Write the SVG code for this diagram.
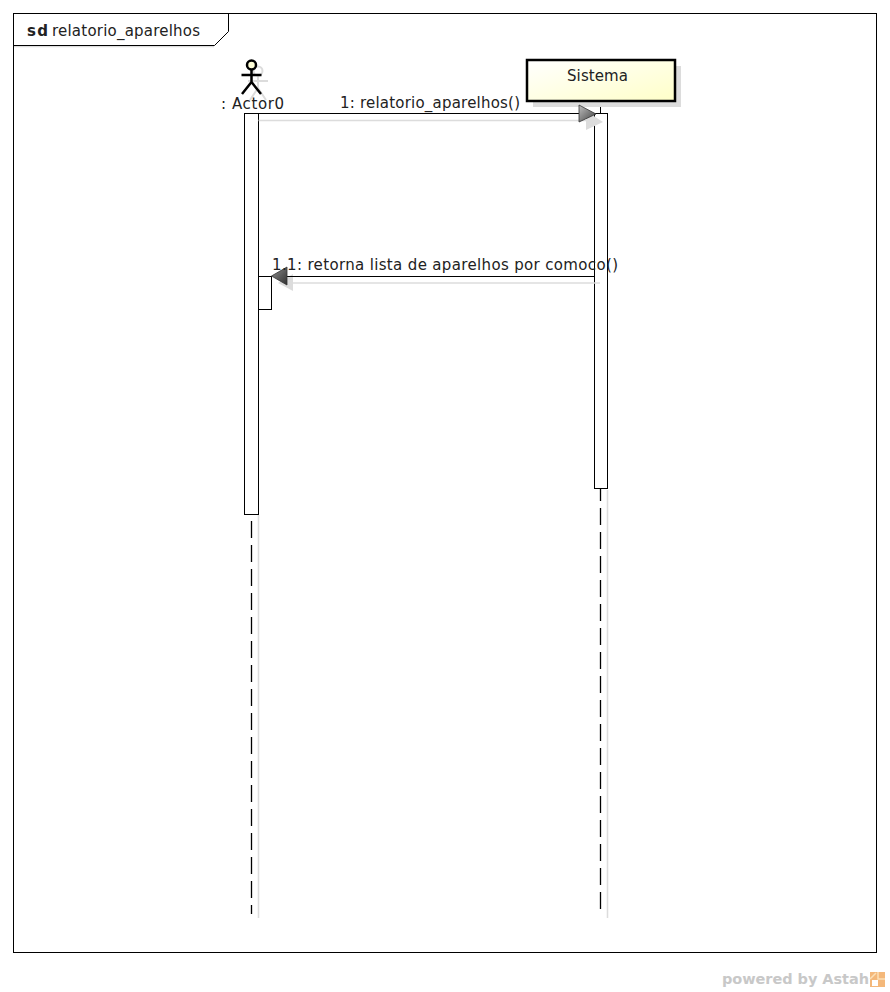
<svg xmlns="http://www.w3.org/2000/svg" width="890" height="992" viewBox="0 0 890 992">
<defs>
<linearGradient id="fill" x1="0" y1="0" x2="1" y2="1"><stop offset="0" stop-color="#ffffff"/><stop offset="1" stop-color="#ffffc8"/></linearGradient>
<linearGradient id="headR" x1="0" y1="0" x2="1" y2="1"><stop offset="0" stop-color="#c0c0c0"/><stop offset="1" stop-color="#404040"/></linearGradient>
<linearGradient id="headL" x1="0" y1="0" x2="1" y2="1"><stop offset="0" stop-color="#909090"/><stop offset="1" stop-color="#303030"/></linearGradient>
</defs>
<style>
text{font-family:"DejaVu Sans",sans-serif;font-size:15px;fill:#222}
.line{fill:none;stroke:#000;stroke-width:1}
.shadow{fill:none;stroke:#dcdcdc;stroke-width:1.5}
.shadowfill{fill:#dcdcdc;stroke:none}
.act{fill:#fff;stroke:#000;stroke-width:1}
.life{fill:none;stroke:#000;stroke-width:1.3;stroke-dasharray:17 7}
</style>
<rect width="890" height="992" fill="#fff"/>
<g id="frame">
<rect x="13.5" y="13.5" width="863" height="939" fill="#fff" stroke="#000"/>
<path class="shadow" d="M14 46.500H214"/>
<path class="line" d="M13.500 45.500H214.500L228.500 31.500V13.500"/>
<text x="27" y="36" textLength="21" style="font-weight:bold">sd</text>
<text x="52" y="36" textLength="148">relatorio_aparelhos</text>
</g>
<g id="connectors">
<path class="shadow" d="M607.500 490V918"/>
<path class="shadow" d="M258.500 515V918"/>
<path class="life" d="M251.500 521V914"/>
<path class="life" d="M600.500 484V909"/>
<path class="line" d="M600.500 101V113"/>
</g>
<g id="actor0">
<g fill="none" stroke="#dcdcdc" stroke-width="2"><circle cx="258" cy="71" r="4.500"/><path d="M258 76V88M248 81H268M258 88L250 100M258 88L266 100"/></g>
<circle cx="251.500" cy="65" r="4.500" fill="#ffffd8" stroke="#000" stroke-width="2.500"/>
<path d="M251.500 70V82M241.500 75H261.500M251.500 82L242 94M251.500 82L261 94" fill="none" stroke="#000" stroke-width="2.500"/>
<text x="221" y="109" textLength="63">: Actor0</text>
</g>
<g id="sistema">
<rect x="533" y="66" width="148" height="41" class="shadowfill"/>
<rect x="527" y="60" width="148" height="41" fill="url(#fill)" stroke="#000" stroke-width="2.500"/>
<text x="567" y="81" textLength="61">Sistema</text>
</g>
<g id="activations">
<rect class="act" x="244.500" y="113.500" width="14" height="401"/>
<rect class="act" x="594.500" y="113.500" width="13" height="375"/>
<rect class="act" x="258.500" y="276.500" width="13" height="33"/>
</g>
<g id="msg1">
<path class="shadow" d="M258.500 120.500H586"/>
<path class="line" d="M258.500 113.500H580"/>
<path class="shadowfill" d="M586 111L603 122L586 130Z"/>
<path d="M579 105L596 114L579 122Z" fill="url(#headR)" stroke="#333" stroke-width="0.800"/>
<text x="340" y="108" textLength="180">1: relatorio_aparelhos()</text>
</g>
<g id="msg2">
<path class="shadow" d="M288 283H600"/>
<path class="shadowfill" d="M278 283L293 274V291Z"/>
<path class="line" d="M287 276.500H594.500"/>
<path d="M271.500 276L287 267V285Z" fill="url(#headL)" stroke="#333" stroke-width="0.800"/>
<text x="272" y="270" textLength="346">1.1: retorna lista de aparelhos por comoco()</text>
</g>
<g id="watermark">
<text x="722" y="984" textLength="147" style="font-weight:bold;font-size:14.500px;fill:#c8c8c8">powered by Astah</text>
<rect x="870" y="972" width="15" height="15" fill="#f4b87a"/>
<path d="M878 972V979H885M870 979L876 973" fill="none" stroke="#fbe0b8" stroke-width="1.500"/>
<rect x="872" y="980" width="6" height="6" fill="#fff"/>
</g>
</svg>
